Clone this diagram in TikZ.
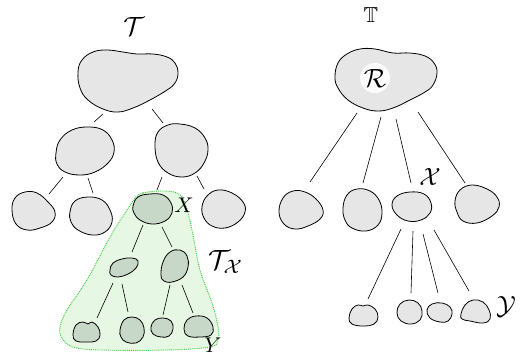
\documentclass[tikz,border=0pt]{standalone}
\usepackage{amssymb}
\usepackage{graphicx}
\usetikzlibrary{calc}
\definecolor{blobgray}{HTML}{E6E6E6}
\definecolor{blobgreen}{HTML}{C8D8C8}
\definecolor{zonefill}{HTML}{E6F7E3}
\definecolor{zoneline}{HTML}{33CC33}
\tikzset{
  hub/.style={inner sep=0pt, minimum size=0pt, draw=none},
  blob/.style={draw=black, line width=0.8pt, fill=blobgray},
  gblob/.style={draw=black, line width=0.8pt, fill=blobgreen},
  edge/.style={draw=black, line width=0.6pt},
  lbl/.style={inner sep=0pt}
}
\begin{document}
\begin{tikzpicture}[x=1pt, y=-1pt]
\useasboundingbox (0,0) rectangle (525,356);

% green zone
\filldraw[fill=zonefill, draw=zoneline, densely dotted, line width=0.9pt]
  plot[smooth cycle, tension=0.6] coordinates {(135,198) (143,193) (160,191) (177,193) (185,203) (192,230) (200,270) (212,303) (218,327) (218,340) (210,347) (167,350) (100,350) (73,347) (62,338) (60,327) (67,310) (87,280) (110,237) (127,210)};

% ---------- left tree blobs ----------
\draw[blob] plot[smooth cycle, tension=0.7] coordinates {(78,72) (82,60) (93,52) (107,50) (123,52) (137,54) (153,54) (167,57) (175,63) (178,73) (175,83) (167,90) (150,100) (133,108) (118,112) (103,109) (88,100) (80,88)};
\draw[blob] plot[smooth cycle, tension=0.7] coordinates {(56,153) (60,140) (72,130) (88,127) (103,130) (112,140) (114,152) (108,163) (95,172) (80,175) (65,172) (57,164)};
\draw[blob] plot[smooth cycle, tension=0.7] coordinates {(155,145) (158,132) (168,125) (180,124) (195,128) (205,138) (208,150) (204,163) (195,173) (182,177) (168,173) (158,162)};
\draw[blob] plot[smooth cycle, tension=0.7] coordinates {(12,210) (15,198) (25,192) (37,193) (48,202) (55,212) (52,222) (40,228) (27,230) (16,224)};
\draw[blob] plot[smooth cycle, tension=0.7] coordinates {(70,212) (75,201) (88,197) (102,200) (110,210) (112,222) (105,232) (92,235) (78,230) (71,222)};
\draw[blob] plot[smooth cycle, tension=0.7] coordinates {(202,207) (207,196) (218,190) (232,193) (243,202) (245,212) (238,222) (225,228) (212,226) (204,218)};
\draw[gblob] plot[smooth cycle, tension=0.7] coordinates {(133,206) (138,197) (150,194) (163,195) (171,203) (172,213) (165,221) (152,224) (140,220) (134,213)};
\draw[gblob] plot[smooth cycle, tension=0.7] coordinates {(110,270) (113,263) (122,259) (132,258) (138,261) (136,268) (128,274) (118,277) (111,275)};
\draw[gblob] plot[smooth cycle, tension=0.7] coordinates {(161,275) (163,262) (170,252) (180,250) (187,256) (188,267) (183,277) (172,282) (164,281)};
\draw[gblob] plot[smooth cycle, tension=0.7] coordinates {(73,335) (76,325) (83,322) (88,324) (92,322) (98,327) (100,335) (96,341) (85,342) (76,341)};
\draw[gblob] plot[smooth cycle, tension=0.7] coordinates {(120,330) (124,320) (132,317) (140,320) (144,328) (143,337) (136,343) (126,342) (121,337)};
\draw[gblob] plot[smooth cycle, tension=0.7] coordinates {(151,327) (155,320) (163,318) (171,321) (173,329) (169,336) (161,337) (153,334)};
\draw[gblob] plot[smooth cycle, tension=0.7] coordinates {(184,329) (187,320) (196,316) (207,318) (213,327) (211,335) (200,337) (188,336)};

% ---------- right tree blobs ----------
\draw[blob] plot[smooth cycle, tension=0.7] coordinates {(335,77) (338,63) (347,54) (360,49) (375,49) (393,53) (410,53) (425,56) (434,63) (437,73) (433,85) (425,92) (410,100) (393,108) (378,111) (363,108) (348,100) (338,88)};
\fill[white, opacity=0.9] (375,78) circle (15);
\draw[blob] plot[smooth cycle, tension=0.7] coordinates {(279,212) (283,198) (293,191) (305,192) (316,199) (323,210) (320,219) (308,226) (295,229) (284,224)};
\draw[blob] plot[smooth cycle, tension=0.7] coordinates {(343,208) (347,195) (357,189) (370,191) (379,200) (382,213) (378,225) (366,231) (352,228) (345,220)};
\draw[blob] plot[smooth cycle, tension=0.7] coordinates {(392,205) (397,196) (410,192) (424,194) (431,203) (430,213) (421,220) (408,221) (397,215)};
\draw[blob] plot[smooth cycle, tension=0.7] coordinates {(455,201) (460,190) (472,185) (487,189) (497,197) (499,207) (492,216) (477,223) (463,221) (457,212)};
\draw[blob] plot[smooth cycle, tension=0.7] coordinates {(349,318) (352,309) (358,305) (363,306) (368,305) (375,309) (378,317) (374,324) (363,326) (352,324)};
\draw[blob] plot[smooth cycle, tension=0.7] coordinates {(397,313) (400,304) (409,300) (418,303) (422,311) (420,320) (411,324) (401,321)};
\draw[blob] plot[smooth cycle, tension=0.7] coordinates {(427,310) (432,304) (442,303) (450,307) (452,314) (448,321) (440,322) (430,318)};
\draw[blob] plot[smooth cycle, tension=0.7] coordinates {(461,314) (465,305) (473,300) (483,302) (489,310) (490,319) (483,323) (470,321) (462,319)};

% ---------- node hubs ----------
\node[hub] (L0) at (127.5,81) {};
\node[hub] (L1) at (85,151) {};
\node[hub] (L2) at (181.5,150.5) {};
\node[hub] (L3) at (33.5,211) {};
\node[hub] (L4) at (91,216) {};
\node[hub] (LX) at (152.5,209) {};
\node[hub] (L5) at (223.5,209) {};
\node[hub] (G1) at (124,267.5) {};
\node[hub] (G2) at (174.5,266) {};
\node[hub] (G3) at (86.5,332) {};
\node[hub] (G4) at (132,330) {};
\node[hub] (G5) at (162,327.5) {};
\node[hub] (G6) at (198.5,326.5) {};
\node[hub] (R0) at (385.5,80) {};
\node[hub] (R1) at (301,210) {};
\node[hub] (R2) at (362.5,210) {};
\node[hub] (RX) at (411.5,206.5) {};
\node[hub] (R4) at (477,204) {};
\node[hub] (S1) at (363.5,315.5) {};
\node[hub] (S2) at (409.5,312) {};
\node[hub] (S3) at (439.5,312.5) {};
\node[hub] (S4) at (475.5,311.5) {};

% ---------- connectors ----------
\draw[edge] ($(L0)+(-24.5,33)$) -- ($(L1)+(9,-29)$);
\draw[edge] ($(L0)+(24.5,28)$) -- ($(L2)+(-18.5,-27.5)$);
\draw[edge] ($(L1)+(-22,26)$) -- ($(L3)+(15.5,-17)$);
\draw[edge] ($(L1)+(3,27)$) -- ($(L4)+(2,-23)$);
\draw[edge] ($(L2)+(-19.5,26.5)$) -- ($(LX)+(4.5,-19)$);
\draw[edge] ($(L2)+(15.5,25.5)$) -- ($(L5)+(-19.5,-20)$);
\draw[edge] ($(LX)+(-9.5,16)$) -- ($(G1)+(8,-15.5)$);
\draw[edge] ($(LX)+(9.5,18)$) -- ($(G2)+(-2.5,-19)$);
\draw[edge] ($(G1)+(-11,15.5)$) -- ($(G3)+(10.5,-14)$);
\draw[edge] ($(G1)+(-2,16.5)$) -- ($(G4)+(-4,-18)$);
\draw[edge] ($(G2)+(-4.5,19)$) -- ($(G5)+(1,-12.5)$);
\draw[edge] ($(G2)+(7.5,19)$) -- ($(G6)+(-5.5,-13.5)$);
\draw[edge] ($(R0)+(-28.5,33)$) -- ($(R1)+(9,-28)$);
\draw[edge] ($(R0)+(-4.5,37)$) -- ($(R2)+(0.5,-27)$);
\draw[edge] ($(R0)+(10.5,39)$) -- ($(RX)+(-0.5,-23.5)$);
\draw[edge] ($(R0)+(32.5,32)$) -- ($(R4)+(-12,-21)$);
\draw[edge] ($(RX)+(-10.5,22.5)$) -- ($(S1)+(4.5,-16.5)$);
\draw[edge] ($(RX)+(1.5,24.5)$) -- ($(S2)+(1.5,-19)$);
\draw[edge] ($(RX)+(11.5,27.5)$) -- ($(S3)+(-1.5,-19.5)$);
\draw[edge] ($(RX)+(22.5,23.5)$) -- ($(S4)+(-6.5,-20.5)$);

% ---------- labels ----------
\node[lbl] (tT) at (134,26) {\resizebox{!}{18pt}{$\mathcal{T}$}};
\node[lbl] (tX) at (184,205) {\resizebox{!}{14.5pt}{$X$}};
\node[lbl, anchor=north west] (tTX) at (208,250) {\resizebox{!}{19pt}{$\mathcal{T}_{\mathcal{X}}$}};
\node[lbl, anchor=north] (tY) at (213,338) {\resizebox{!}{14.5pt}{$Y$}};
\node[lbl] (bbT) at (371,15) {\resizebox{!}{15pt}{$\mathbb{T}$}};
\node[lbl] (tR) at (375,78) {\resizebox{!}{18pt}{$\mathcal{R}$}};
\node[lbl] (cX) at (430,177) {\resizebox{!}{17pt}{$\mathcal{X}$}};
\node[lbl] (cY) at (506,307) {\resizebox{!}{18pt}{$\mathcal{Y}$}};
\end{tikzpicture}
\end{document}
